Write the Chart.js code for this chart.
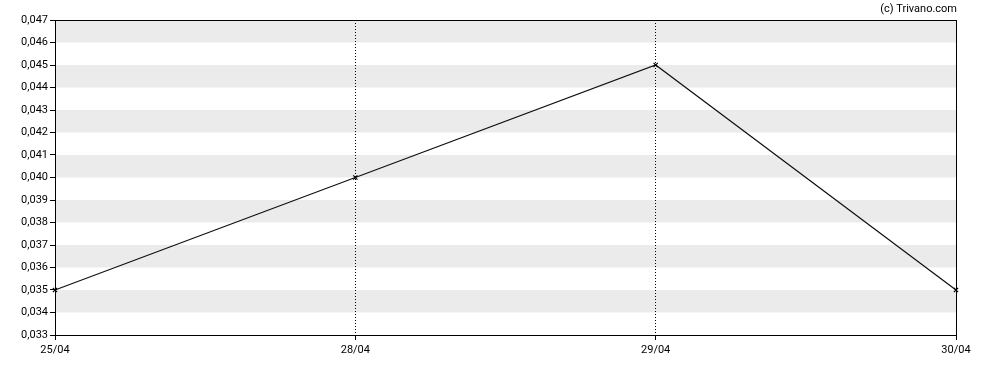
<!DOCTYPE html>
<html>
<head>
<meta charset="utf-8">
<script src="https://cdn.jsdelivr.net/npm/chart.js@4"></script>
<style>
  html, body { margin: 0; padding: 0; background: #fff; }
  .box { width: 988px; height: 370px; position: relative; }
</style>
</head>
<body>
<div class="box"><canvas id="chart"></canvas></div>
<script>
// data
const dates  = ['25/04', '28/04', '29/04', '30/04'];
const prices = [0.035, 0.040, 0.045, 0.035];
const yMin = 0.033, yMax = 0.047, yStep = 0.001;

// ---- plugin: alternating grey bands + full frame + copyright ----
const bands = {
  id: 'bands',
  beforeDraw(chart) {
    const { ctx, chartArea: a, scales: { y } } = chart;
    ctx.save();
    ctx.fillStyle = '#ebebeb';
    for (let v = 0.046; v >= yMin - 1e-9; v -= 0.002) {
      const top = y.getPixelForValue(v + yStep);
      const bot = y.getPixelForValue(v);
      ctx.fillRect(a.left, top, a.right - a.left, bot - top);
    }
    ctx.restore();
  },
  afterDraw(chart) {
    const { ctx, chartArea: a } = chart;
    ctx.save();
    ctx.setLineDash([]);
    ctx.strokeStyle = '#000';
    ctx.lineWidth = 1;
    ctx.strokeRect(Math.round(a.left) + 0.5, Math.round(a.top) + 0.5,
                   Math.round(a.right - a.left), Math.round(a.bottom - a.top));
    ctx.fillStyle = '#000';
    ctx.font = '11px Roboto';
    ctx.textAlign = 'right';
    ctx.textBaseline = 'middle';
    ctx.fillText('(c) Trivano.com', a.right + 1, 9);
    ctx.restore();
  }
};

const ctx = document.getElementById('chart').getContext('2d');
new Chart(ctx, {
  type: 'line',
  data: {
    labels: dates,
    datasets: [{
      data: prices,
      borderColor: '#111',
      borderWidth: 1.2,
      pointStyle: 'crossRot',
      pointRadius: 3,
      pointBorderColor: '#000',
      pointBorderWidth: 1.2,
      tension: 0
    }]
  },
  options: {
    responsive: true,
    maintainAspectRatio: false,
    animation: false,
    layout: { padding: { top: 20, right: 32, left: 0, bottom: 0 } },
    plugins: { legend: { display: false }, tooltip: { enabled: false } },
    scales: {
      x: {
        offset: false,
        grid: {
          color: c => (c.index === 0 || c.index === dates.length - 1) ? 'rgba(0,0,0,0)' : '#000',
          tickColor: '#000',
          tickLength: 5,
          tickBorderDash: []
        },
        border: { color: '#000', dash: [1, 2] },
        ticks: { color: '#000', font: { family: 'Roboto', size: 11 }, padding: 4, maxRotation: 0 },
        afterFit(s) { s.height = 35; }
      },
      y: {
        min: yMin,
        max: yMax,
        grid: { drawOnChartArea: false, tickColor: '#000', tickLength: 5 },
        border: { color: '#000' },
        ticks: {
          stepSize: yStep,
          color: '#000',
          font: { family: 'Roboto', size: 11 },
          padding: 2,
          callback: v => v.toFixed(3).replace('.', ',')
        },
        afterFit(s) { s.width = 55; }
      }
    }
  },
  plugins: [bands]
});
</script>
</body>
</html>
